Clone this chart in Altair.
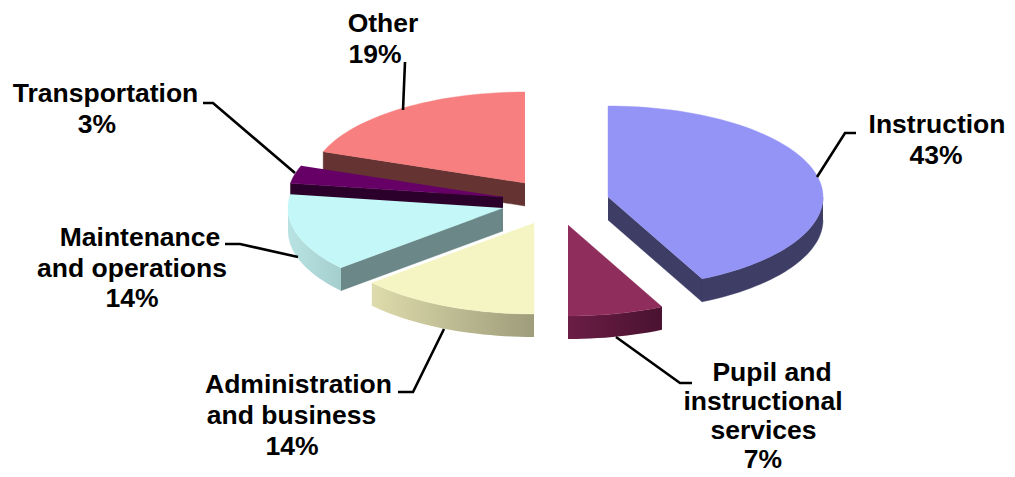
import math
import altair as alt
import pandas as pd

# Chart values
categories = ["Instruction", "Pupil and\ninstructional\nservices", "Administration\nand business",
              "Maintenance\nand operations", "Transportation", "Other"]
percent_labels = ["43%", "7%", "14%", "14%", "3%", "19%"]
shares = [42.8, 7.2, 13.6, 13.8, 3.2, 19.4]

# Drawing style and layout (reference pixel space)
top_colors = ["#9494F7", "#8F2E5C", "#F5F5C4", "#C4F7F7", "#660066", "#F77F7F"]
wall_left = ["#3D3D66", "#6B1D45", "#DEDBAC", "#B9E2E2", "#2B002B", "#663333"]
wall_right = ["#3D3D66", "#4A1230", "#9E9C7A", "#A5CFCF", "#2B002B", "#663333"]
face_colors = ["#3D3D66", None, None, "#6B8787", "#2B002B", "#663333"]
apex_x = [608, 568, 534, 503, 503, 525]
apex_y = [197, 225, 223, 208, 197, 183]
RX, RY, DEPTH = 215, 91, 23
label_x = [[937, 936], [772, 763, 763.5, 763], [298.5, 291.5, 292], [140, 132, 132], [105.5, 97], [383, 375]]
label_y = [[125, 156], [373, 402, 431, 460], [385, 416, 447], [238, 269, 299], [94, 125], [24, 55]]
leaders = [
    [(817, 177), (845, 133), (856, 133)],
    [(616, 337), (680, 383), (692, 383)],
    [(444, 329), (413, 392), (398, 392)],
    [(298, 257), (240, 244), (225, 244)],
    [(295, 173), (213, 103), (203, 103)],
    [(403, 110), (405, 62)],
]
draw_order = [5, 4, 3, 2, 1, 0]

X = alt.X("x:Q", scale=alt.Scale(domain=[8, 1007], nice=False, zero=False), axis=None)
Y = alt.Y("y:Q", scale=alt.Scale(domain=[477, 8], nice=False, zero=False), axis=None)


def rim(i, t, dy=0):
    a = math.radians(t)
    return (apex_x[i] + RX * math.sin(a), apex_y[i] - RY * math.cos(a) + dy)


def arc(i, t0, t1, dy=0):
    n = max(2, int(abs(t1 - t0) / 2) + 2)
    return [rim(i, t0 + (t1 - t0) * k / (n - 1), dy) for k in range(n)]


def poly(points, fill):
    df = pd.DataFrame([{"i": k, "x": p[0], "y": p[1]} for k, p in enumerate(points)])
    stroke = fill if isinstance(fill, str) else "#aaaaaa"
    return alt.Chart(df).mark_line(fill=fill, stroke=stroke, strokeWidth=0.4 if isinstance(fill, str) else 0).encode(
        x=X, y=Y, order=alt.Order("i:Q"))


def gradient(c0, c1):
    return alt.LinearGradient(gradient="linear", x1=0, x2=1, y1=0, y2=0,
                              stops=[alt.GradientStop(color=c0, offset=0), alt.GradientStop(color=c1, offset=1)])


cum = [0]
for p in shares:
    cum.append(cum[-1] + p)
start = [c * 3.6 for c in cum[:-1]]
end = [c * 3.6 for c in cum[1:]]

layers = []
for i in draw_order:
    t0, t1 = start[i], end[i]
    apex = (apex_x[i], apex_y[i])
    # radial cut faces
    if face_colors[i]:
        t = t1 if i == 0 else t0
        c = rim(i, t)
        layers.append(poly([apex, c, (c[0], c[1] + DEPTH), (apex[0], apex[1] + DEPTH)], face_colors[i]))
    # outer wall (front half only)
    a0, a1 = max(t0, 90), min(t1, 270)
    if a1 > a0:
        wall = arc(i, a0, a1) + arc(i, a1, a0, DEPTH)
        fill = wall_left[i] if wall_left[i] == wall_right[i] else gradient(wall_left[i], wall_right[i])
        layers.append(poly(wall, fill))
    layers.append(poly([apex] + arc(i, t0, t1), top_colors[i]))

for path in leaders:
    df = pd.DataFrame([{"i": k, "x": p[0], "y": p[1]} for k, p in enumerate(path)])
    layers.append(alt.Chart(df).mark_line(color="#000000", strokeWidth=2.6).encode(x=X, y=Y, order=alt.Order("i:Q")))

rows = []
for i, cat in enumerate(categories):
    lines = cat.split("\n") + [percent_labels[i]]
    for k, line in enumerate(lines):
        rows.append({"x": label_x[i][k], "y": label_y[i][k], "t": line})
layers.append(alt.Chart(pd.DataFrame(rows)).mark_text(
    font="Liberation Sans", fontWeight="bold", fontSize=26.5, color="#000000", align="center", baseline="middle"
).encode(x=X, y=Y, text="t:N"))

chart = alt.layer(*layers).properties(width=999, height=469, padding=0, autosize="none", background="white"
                                      ).configure_view(stroke=None)
chart.save("out.html", embed_options={"renderer": "svg", "actions": False})
